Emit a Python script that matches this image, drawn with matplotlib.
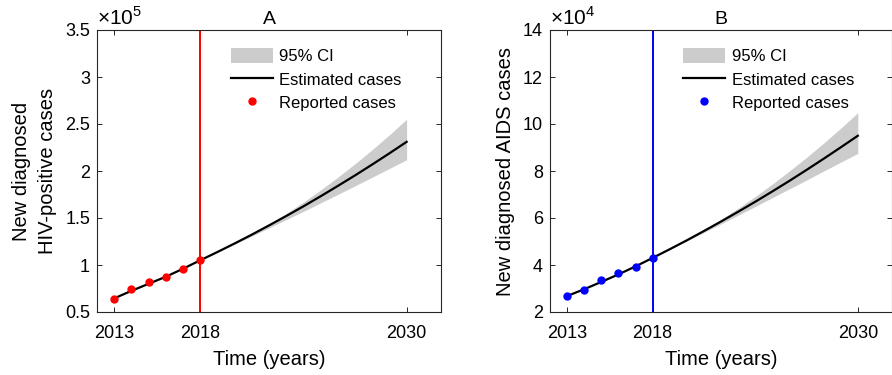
import matplotlib
matplotlib.use("Agg")
import matplotlib.pyplot as plt
from matplotlib.ticker import FuncFormatter

plt.rcParams['font.family'] = ['Liberation Sans', 'DejaVu Sans']
plt.rcParams['mathtext.fontset'] = 'custom'
plt.rcParams['mathtext.rm'] = 'Liberation Sans'

# reported data (2013-2018)
rep_years = [2013, 2014, 2015, 2016, 2017, 2018]
hiv_reported = [63500, 74100, 81600, 87600, 95700, 105000]
aids_reported = [26700, 29500, 33700, 36700, 39000, 43100]

# model estimates (yearly, 2013-2030)
est_years = list(range(2013, 2031))
hiv_est = [64500, 72500, 80000, 87500, 96000, 105000, 113800, 122900, 132300,
           142100, 152100, 162400, 173100, 184100, 195300, 206900, 218800, 231000]
aids_est = [26800, 29700, 32800, 36000, 39400, 43000, 46700, 50500, 54450,
            58500, 62650, 66900, 71300, 75800, 80450, 85200, 90050, 95000]

# 95% CI (2018-2030)
ci_years = list(range(2018, 2031))
hiv_ci_low = [105000, 113500, 122100, 130700, 139500, 148300, 157100, 166100,
              175100, 184200, 193400, 202700, 212000]
hiv_ci_high = [105000, 113500, 122700, 132700, 143400, 154800, 166900, 179800,
               193400, 207700, 222700, 238500, 255000]
aids_ci_low = [43000, 46600, 50200, 53850, 57500, 61200, 64900, 68650,
               72400, 76150, 79950, 83750, 87500]
aids_ci_high = [43000, 46700, 50650, 54900, 59400, 64150, 69150, 74450,
                80000, 85800, 91850, 98200, 104800]

panels = [
    dict(title='A', reported=hiv_reported, est=hiv_est, lo=hiv_ci_low, hi=hiv_ci_high,
         color='#ff0000', scale=1e5, exp=5, yticks=[0.5, 1, 1.5, 2, 2.5, 3, 3.5],
         ylabel='New diagnosed\nHIV-positive cases'),
    dict(title='B', reported=aids_reported, est=aids_est, lo=aids_ci_low, hi=aids_ci_high,
         color='#0000ff', scale=1e4, exp=4, yticks=[2, 4, 6, 8, 10, 12, 14],
         ylabel='New diagnosed AIDS cases'),
]

fig = plt.figure(figsize=(8.92, 3.75), dpi=100)
axes_pos = [[97/892, 63/375, 344/892, 282/375],
            [550/892, 63/375, 342/892, 282/375]]

for pos, p in zip(axes_pos, panels):
    ax = fig.add_axes(pos)
    s = p['scale']
    ax.fill_between(ci_years, p['lo'], p['hi'], color='#cccccc', lw=0, label='95% CI')
    ax.plot(est_years, p['est'], color='black', lw=1.6, label='Estimated cases')
    ax.plot(rep_years, p['reported'], 'o', color=p['color'], ms=5, label='Reported cases')
    ax.axvline(2018, color=p['color'], lw=1.4)

    ax.set_xlim(2012, 2032)
    ax.set_ylim(p['yticks'][0] * s, p['yticks'][-1] * s)
    ax.set_xticks([2013, 2018, 2030])
    ax.set_yticks([v * s for v in p['yticks']])
    ax.yaxis.set_major_formatter(FuncFormatter(lambda v, _, s=s: '%g' % (v / s)))
    ax.tick_params(direction='in', top=True, right=True, labelsize=13, length=3.5,
                   width=0.7, colors='#262626', labelcolor='black')
    ax.tick_params(axis='x', pad=9)
    ax.tick_params(axis='y', pad=5)
    for sp in ax.spines.values():
        sp.set_linewidth(0.8)
        sp.set_color('#262626')

    ax.set_xlabel('Time (years)', fontsize=14.5, labelpad=6)
    ax.set_ylabel(p['ylabel'], fontsize=14.5, labelpad=6, linespacing=1.45)
    ax.set_title(p['title'], fontsize=14, pad=4)
    ax.text(0.0, 1.005, r'$\times 10^{%d}$' % p['exp'], transform=ax.transAxes,
            fontsize=15, ha='left', va='bottom')

    ax.legend(loc='upper left', bbox_to_anchor=(0.39, 0.935), frameon=False, fontsize=12,
              handlelength=2.5, handleheight=1.0, handletextpad=0.4, labelspacing=0.42,
              borderpad=0, borderaxespad=0)

fig.savefig('out.png', dpi=100)
